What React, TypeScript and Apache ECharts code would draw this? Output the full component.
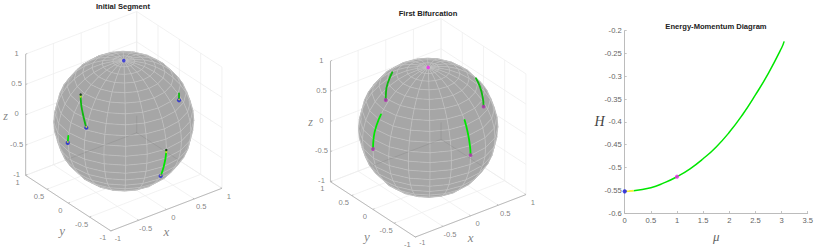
import React, { useEffect, useRef } from "react";
import * as echarts from "echarts";

// ---- data ----
const ticks3d = [-1, -0.5, 0, 0.5, 1];
const muTicksMax = 3.5;
const yellowMu = [0, 0.08, 0.17];
const yellowH = [-0.5525, -0.5522, -0.5512];
const greenMu = [0.17, 0.5, 0.75, 1, 1.25, 1.5, 1.75, 2, 2.25, 2.5, 2.75, 3, 3.05];
const greenH = [-0.5512, -0.5445, -0.534, -0.5204, -0.503, -0.481, -0.455, -0.423, -0.385, -0.341, -0.293, -0.238, -0.2234];

// tracks on the sphere, as seen in the view plane (u right, v up; sphere radius 1)
const initA = { u: [-0.616, -0.611, -0.587, -0.561, -0.536], v: [0.381, 0.26, 0.117, 0.003, -0.093] };
const initB = { u: [0.789, 0.789], v: [0.396, 0.299] };
const initC = { u: [-0.793, -0.801], v: [-0.211, -0.31] };
const initD = { u: [0.607, 0.599, 0.57, 0.527], v: [-0.411, -0.507, -0.65, -0.783] };
const poleView = [0, 0.866];

const bifTL = { u: [-0.515, -0.572, -0.605, -0.609], v: [0.797, 0.663, 0.519, 0.399] };
const bifTR = { u: [0.685, 0.742, 0.781, 0.795], v: [0.71, 0.59, 0.446, 0.303] };
const bifBL = { u: [-0.677, -0.739, -0.782, -0.792], v: [0.193, 0.04, -0.136, -0.304] };
const bifBR = { u: [0.522, 0.565, 0.598, 0.608], v: [0.112, -0.056, -0.247, -0.392] };

// ---- MATLAB view(-37.5, 30) orthographic projection ----
const AZ = (37.5 * Math.PI) / 180;
const EL = (30 * Math.PI) / 180;
const proj = (x: number, y: number, z: number) => [
  Math.cos(AZ) * x - Math.sin(AZ) * y,
  Math.sin(EL) * (Math.sin(AZ) * x + Math.cos(AZ) * y) + Math.cos(EL) * z,
];
const depth = (x: number, y: number, z: number) =>
  -Math.cos(EL) * (Math.sin(AZ) * x + Math.cos(AZ) * y) + Math.sin(EL) * z;

const TEXT = "#636363";
const AXIS = "#b4b4b4";
const WALL = "#ececec";
const SANS = "'Liberation Sans', Arial, sans-serif";
const SERIF = "'Liberation Serif', serif";

function sphereFaces() {
  const n = 20;
  const faces: number[][] = [];
  const pt = (i: number, j: number) => {
    const phi = -Math.PI / 2 + (Math.PI * i) / n;
    const th = -Math.PI + (2 * Math.PI * j) / n;
    return [Math.cos(phi) * Math.cos(th), Math.cos(phi) * Math.sin(th), Math.sin(phi)];
  };
  for (let i = 0; i < n; i++) {
    for (let j = 0; j < n; j++) {
      const c = [pt(i, j), pt(i + 1, j), pt(i + 1, j + 1), pt(i, j + 1)];
      if (Math.max(...c.map((p) => depth(p[0], p[1], p[2]))) <= 0) continue;
      faces.push(c.flatMap((p) => proj(p[0], p[1], p[2])));
    }
  }
  return faces;
}

type Track = { u: number[]; v: number[] };
const zip = (t: Track) => t.u.map((u, i) => [u, t.v[i]]);

function panel3d(idx: number, tracks: any[], dots: any[], xLowDy: number) {
  const out: any[] = [];
  const base = { xAxisIndex: idx, yAxisIndex: idx, silent: true, clip: false };
  const seg = (a: number[], b: number[], color: string, w = 0.7, z = 1) =>
    out.push({
      ...base,
      z,
      type: "line",
      symbol: "none",
      data: [proj(a[0], a[1], a[2]), proj(b[0], b[1], b[2])],
      lineStyle: { color, width: w },
    });
  for (const t of ticks3d) {
    seg([t, -1, -1], [t, 1, -1], WALL);
    seg([-1, t, -1], [1, t, -1], WALL);
    seg([t, 1, -1], [t, 1, 1], WALL);
    seg([1, t, -1], [1, t, 1], WALL);
    seg([-1, 1, t], [1, 1, t], WALL);
    seg([1, -1, t], [1, 1, t], WALL);
  }
  const faces = sphereFaces();
  const facePoints = (api: any) => [0, 2, 4, 6].map((k) => api.coord([api.value(k), api.value(k + 1)]));
  out.push({
    ...base,
    z: 2,
    type: "custom",
    data: faces,
    encode: { x: [0, 2, 4, 6], y: [1, 3, 5, 7] },
    renderItem: (_p: any, api: any) => ({
      type: "polygon",
      shape: { points: facePoints(api) },
      style: { fill: "#a6a6a6", stroke: "#a6a6a6", lineWidth: 0.4 },
    }),
  });
  // back corner and floor edges, faintly seen through the sphere
  const inside = (a: number[], b: number[]) => {
    let last = a;
    for (let s = 0; s <= 60; s++) {
      const t = s / 60;
      const p = [a[0] + (b[0] - a[0]) * t, a[1] + (b[1] - a[1]) * t, a[2] + (b[2] - a[2]) * t];
      const q = proj(p[0], p[1], p[2]);
      if (Math.hypot(q[0], q[1]) > 0.985) break;
      last = p;
    }
    return last;
  };
  const SHADE = "rgba(70,70,70,0.17)";
  seg([1, 1, -1], inside([1, 1, -1], [-1, 1, -1]), SHADE, 0.7, 3);
  seg([1, 1, -1], inside([1, 1, -1], [1, -1, -1]), SHADE, 0.7, 3);
  seg([1, 1, -1], [1, 1, -0.72], SHADE, 0.7, 3);
  out.push({
    ...base,
    z: 3,
    type: "custom",
    data: faces,
    encode: { x: [0, 2, 4, 6], y: [1, 3, 5, 7] },
    renderItem: (_p: any, api: any) => ({
      type: "polygon",
      shape: { points: facePoints(api) },
      style: { fill: "none", stroke: "rgba(215,215,215,0.32)", lineWidth: 0.6 },
    }),
  });
  // axis lines
  seg([-1, -1, -1], [1, -1, -1], AXIS, 0.9);
  seg([-1, -1, -1], [-1, 1, -1], AXIS, 0.9);
  seg([-1, 1, -1], [-1, 1, 1], AXIS, 0.9);
  for (const t of ticks3d) {
    seg([t, -1, -1], [t, -0.97, -1], AXIS, 0.8);
    seg([-1, t, -1], [-0.97, t, -1], AXIS, 0.8);
    seg([-1, 1, t], [-0.97, 1, t], AXIS, 0.8);
  }
  // tick labels and axis names
  const label = (pos: number[], text: string, dx: number, dy: number, size = 7.6, family = SANS, italic = false) =>
    out.push({
      ...base,
      z: 5,
      type: "scatter",
      symbolSize: 1,
      itemStyle: { color: "transparent" },
      data: [proj(pos[0], pos[1], pos[2])],
      label: {
        show: true,
        position: "inside",
        offset: [dx, dy],
        formatter: text,
        color: TEXT,
        fontSize: size,
        fontFamily: family,
        fontStyle: italic ? "italic" : "normal",
        align: "center",
        verticalAlign: "middle",
      },
    });
  for (const t of ticks3d) {
    label([t, -1, -1], String(t), 7, t === -1 ? xLowDy : 8, t === -1 ? 7 : 7.6);
    label([-1, t, -1], String(t), -8, 7);
    label([-1, 1, t], String(t), -9, -1);
  }
  label([0, -1, -1], "x", 0, 22, 13, SERIF, true);
  label([-1, 0, -1], "y", -6, 27, 13, SERIF, true);
  label([-1, 1, 0], "z", -20, 1, 12, SERIF, true);
  // tracks
  for (const t of tracks) {
    out.push({
      ...base,
      z: 6,
      type: "line",
      smooth: true,
      symbol: "none",
      data: zip(t.track),
      lineStyle: { color: t.color, width: t.width ?? 1.8, cap: "round" },
    });
  }
  for (const d of dots) {
    out.push({
      ...base,
      z: 7,
      type: "scatter",
      symbol: "circle",
      symbolSize: d.size,
      data: [d.at],
      itemStyle: { color: d.color },
    });
  }
  return out;
}

const BLUE = "#2222d8";
const YEL = "#f2e43a";
const BLK = "#222222";
const MAG = "#b52cb5";
const GREEN = "#00e600";
const DGREEN = "#10b810";

const initDots = [
  { at: poleView, color: BLUE, size: 3.6 },
  ...[initA, initB, initC, initD].flatMap((t) => {
    const n = t.u.length - 1;
    return [
      { at: [t.u[n], t.v[n]], color: BLUE, size: 4.2 },
      { at: [t.u[n], t.v[n] + 0.012], color: YEL, size: 1.8 },
    ];
  }),
  ...[initA, initD].flatMap((t) => [
    { at: [t.u[0], t.v[0] - 0.03], color: YEL, size: 2.2 },
    { at: [t.u[0], t.v[0]], color: BLK, size: 2.4 },
  ]),
];

const bifDots = [
  { at: poleView, color: "#f020f0", size: 3.6 },
  ...[bifTL, bifTR, bifBL, bifBR].map((t) => {
    const n = t.u.length - 1;
    return { at: [t.u[n], t.v[n]], color: MAG, size: 3.8 };
  }),
];

// viewport of a panel expressed in view units around the sphere centre
const axesFor = (idx: number, left: number, width: number, cx: number, cy: number, R: number) => ({
  grid: { left, top: 0, width, height: 248 },
  x: { type: "value", show: false, gridIndex: idx, min: (left - cx) / R, max: (left + width - cx) / R },
  y: { type: "value", show: false, gridIndex: idx, min: (cy - 248) / R, max: cy / R },
});

export default function App() {
  const ref = useRef<HTMLDivElement>(null);
  useEffect(() => {
    const chart = echarts.init(ref.current!, undefined, { renderer: "svg" });
    const a = axesFor(0, 0, 280, 123.8, 121.2, 70);
    const b = axesFor(1, 280, 270, 428.2, 127.8, 69.7);
    const titleStyle = { fontSize: 7.6, fontWeight: "bold" as const, color: "#222", fontFamily: SANS };
    const cartAxis = {
      axisLine: { show: true, lineStyle: { color: AXIS, width: 0.9 } },
      axisTick: { show: true, inside: true, length: 2, lineStyle: { color: AXIS, width: 0.8 } },
      axisLabel: { color: TEXT, fontSize: 7.6, fontFamily: SANS, margin: 3 },
      splitLine: { show: false },
    };
    chart.setOption({
      animation: false,
      backgroundColor: "#ffffff",
      title: [
        { text: "Initial Segment", left: 123, top: 2, textAlign: "center", textStyle: titleStyle, padding: 0 },
        { text: "First Bifurcation", left: 428, top: 9, textAlign: "center", textStyle: titleStyle, padding: 0 },
        { text: "Energy-Momentum Diagram", left: 716, top: 22, textAlign: "center", textStyle: titleStyle, padding: 0 },
      ],
      grid: [a.grid, b.grid, { left: 624.7, top: 30.7, width: 183, height: 182.6 }],
      xAxis: [
        a.x,
        b.x,
        {
          ...cartAxis,
          type: "value",
          gridIndex: 2,
          min: 0,
          max: muTicksMax,
          interval: 0.5,
          name: "μ",
          nameLocation: "middle",
          nameGap: 17,
          nameMoveOverlap: false,
          nameTextStyle: { fontFamily: SERIF, fontStyle: "italic", fontSize: 13, color: TEXT },
        },
      ],
      yAxis: [
        a.y,
        b.y,
        {
          ...cartAxis,
          type: "value",
          gridIndex: 2,
          min: -0.6,
          max: -0.2,
          interval: 0.05,
          name: "H",
          nameLocation: "middle",
          nameRotate: 0,
          nameGap: 20,
          nameMoveOverlap: false,
          nameTextStyle: { fontFamily: SERIF, fontStyle: "italic", fontSize: 14, color: "#444" },
        },
      ],
      series: [
        ...panel3d(
          0,
          [
            { track: initA, color: DGREEN },
            { track: initB, color: DGREEN },
            { track: initC, color: GREEN },
            { track: initD, color: GREEN },
          ],
          initDots,
          8
        ),
        ...panel3d(
          1,
          [
            { track: bifTL, color: DGREEN },
            { track: bifTR, color: DGREEN },
            { track: bifBL, color: GREEN },
            { track: bifBR, color: GREEN },
          ],
          bifDots,
          5.5
        ),
        {
          type: "line",
          z: 6,
          xAxisIndex: 2,
          yAxisIndex: 2,
          smooth: true,
          symbol: "none",
          data: greenMu.map((m, i) => [m, greenH[i]]),
          lineStyle: { color: GREEN, width: 1.5 },
          silent: true,
        },
        {
          type: "line",
          z: 6,
          xAxisIndex: 2,
          yAxisIndex: 2,
          symbol: "none",
          data: yellowMu.map((m, i) => [m, yellowH[i]]),
          lineStyle: { color: "#f5ee3c", width: 1.8 },
          silent: true,
        },
        {
          type: "scatter",
          z: 7,
          xAxisIndex: 2,
          yAxisIndex: 2,
          symbolSize: 4.2,
          data: [[yellowMu[0], yellowH[0]]],
          itemStyle: { color: "#1414e0" },
          clip: false,
          silent: true,
        },
        {
          type: "scatter",
          z: 7,
          xAxisIndex: 2,
          yAxisIndex: 2,
          symbolSize: 4.2,
          data: [[greenMu[3], greenH[3]]],
          itemStyle: { color: "#f020f0" },
          silent: true,
        },
      ],
    });
    return () => chart.dispose();
  }, []);
  return <div ref={ref} style={{ position: "absolute", left: 0, top: 0, width: 818, height: 248 }} />;
}
